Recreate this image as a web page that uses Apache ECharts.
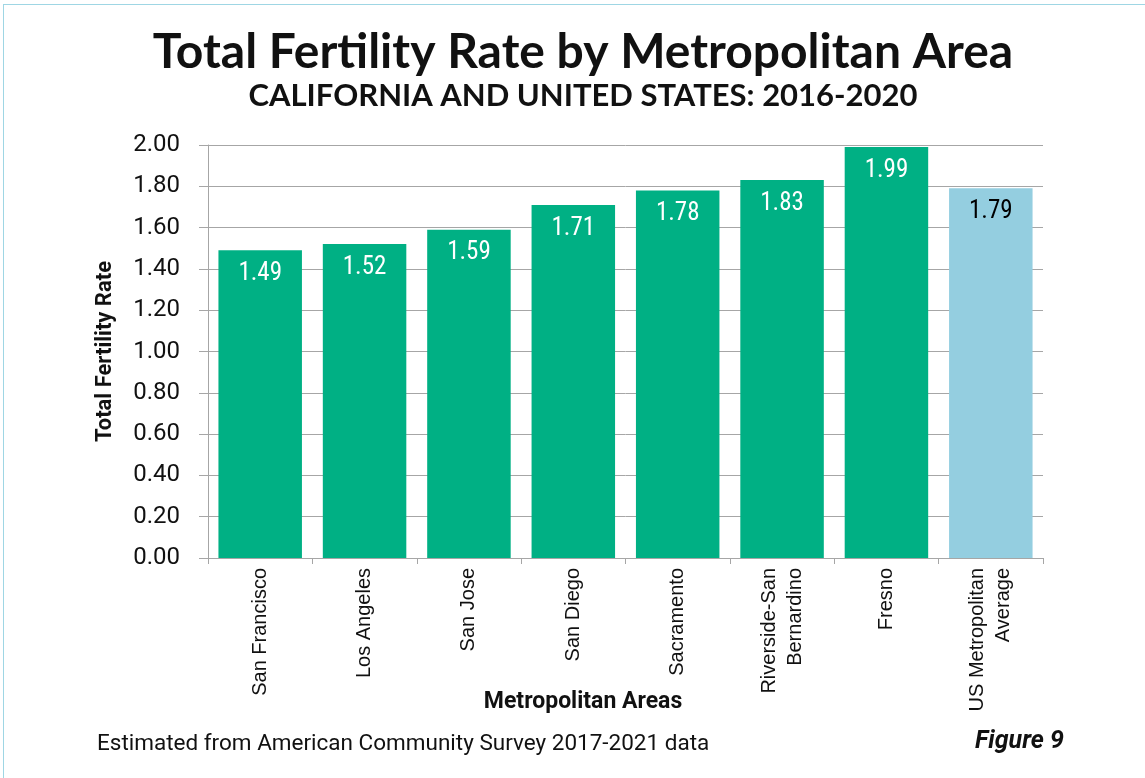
<!DOCTYPE html>
<html>
<head>
<meta charset="utf-8">
<script src="https://cdn.jsdelivr.net/npm/echarts@6/dist/echarts.min.js"></script>
<style>
  html, body { margin: 0; padding: 0; background: #fff; }
  #frame { position: absolute; left: 3px; top: 4px; width: 1160px; height: 800px; border-left: 1px solid #9fd6e4; border-top: 1px solid #9fd6e4; }
  #chart { position: absolute; left: 0; top: 0; width: 1145px; height: 778px; }
</style>
</head>
<body>
<div id="frame"></div>
<div id="chart"></div>
<script>
// Metro areas and their total fertility rates (2016-2020)
const categories = ['San Francisco', 'Los Angeles', 'San Jose', 'San Diego', 'Sacramento', 'Riverside-San\nBernardino', 'Fresno', 'US Metropolitan\nAverage'];
const fertilityRates = [1.49, 1.52, 1.59, 1.71, 1.78, 1.83, 1.99, 1.79];
const barColors = ['#00b084', '#00b084', '#00b084', '#00b084', '#00b084', '#00b084', '#00b084', '#94cee0'];
const labelColors = ['#ffffff', '#ffffff', '#ffffff', '#ffffff', '#ffffff', '#ffffff', '#ffffff', '#000000'];

const chart = echarts.init(document.getElementById('chart'), null, { renderer: 'canvas' });

chart.setOption({
  animation: false,
  backgroundColor: 'transparent',
  title: [
    {
      text: 'Total Fertility Rate by Metropolitan Area',
      left: 583, top: 29, padding: 0, textAlign: 'center',
      textStyle: { fontFamily: 'Lato', fontWeight: 'bold', fontSize: 48, color: '#111' }
    },
    {
      text: 'CALIFORNIA AND UNITED STATES: 2016-2020',
      left: 583, top: 80, padding: 0, textAlign: 'center',
      textStyle: { fontFamily: 'Lato', fontWeight: 'bold', fontSize: 31, color: '#111' }
    },
    {
      text: 'Estimated from American Community Survey 2017-2021 data',
      left: 97, top: 733, padding: 0,
      textStyle: { fontFamily: 'Roboto', fontWeight: 'normal', fontSize: 22.5, color: '#111' }
    },
    {
      text: 'Figure 9',
      left: 975, top: 729, padding: 0,
      textStyle: { fontFamily: 'Roboto', fontWeight: 'bold', fontStyle: 'italic', fontSize: 25, color: '#111' }
    }
  ],
  grid: { left: 208, right: 102, top: 145, bottom: 220, containLabel: false },
  xAxis: {
    type: 'category',
    data: categories,
    name: 'Metropolitan Areas',
    nameLocation: 'middle',
    nameGap: 133,
    nameMoveOverlap: false,
    nameTextStyle: { fontFamily: 'Roboto', fontWeight: 'bold', fontSize: 23, color: '#111', padding: [0, 85, 0, 0] },
    axisLine: { show: true, lineStyle: { color: '#a6a6a6', width: 1 } },
    axisTick: { show: true, length: 6, lineStyle: { color: '#a6a6a6' } },
    axisLabel: {
      rotate: 90, interval: 0, margin: 10,
      fontFamily: 'Liberation Sans', fontSize: 20, color: '#111', lineHeight: 26
    }
  },
  yAxis: {
    type: 'value',
    min: 0, max: 2, interval: 0.2,
    name: 'Total Fertility Rate',
    nameLocation: 'middle',
    nameGap: 92,
    nameRotate: 90,
    nameMoveOverlap: false,
    nameTextStyle: { fontFamily: 'Roboto', fontWeight: 'bold', fontSize: 22, color: '#111' },
    axisLine: { show: true, lineStyle: { color: '#a6a6a6', width: 1 } },
    axisTick: { show: true, inside: false, length: 9, lineStyle: { color: '#a6a6a6' } },
    splitLine: { show: true, lineStyle: { color: '#a6a6a6', width: 1 } },
    axisLabel: {
      margin: 28,
      formatter: v => v.toFixed(2),
      fontFamily: 'Roboto', fontSize: 24, color: '#111'
    }
  },
  series: [{
    type: 'bar',
    data: fertilityRates.map((v, i) => ({
      value: v,
      itemStyle: { color: barColors[i] },
      label: { color: labelColors[i] }
    })),
    barCategoryGap: '20%',
    label: {
      show: true,
      position: 'insideTop',
      distance: 11,
      formatter: p => p.value.toFixed(2),
      fontStyle: 'condensed',
      fontFamily: 'Roboto', fontSize: 25
    }
  }]
});
</script>
</body>
</html>
